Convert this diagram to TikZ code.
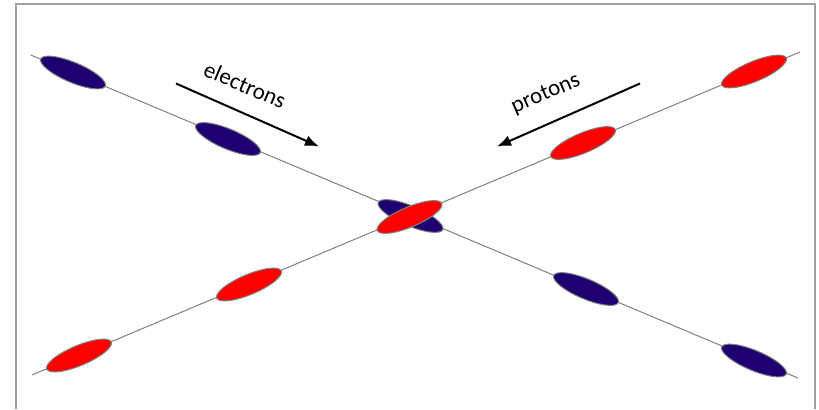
\documentclass[tikz,border=0pt]{standalone}
\usepackage{fontspec}
\setmainfont{Carlito}
\usepackage{xcolor}
\usetikzlibrary{shapes.geometric,arrows.meta}
\definecolor{electronblue}{RGB}{31,0,112}
\definecolor{beamgray}{RGB}{128,128,128}
\definecolor{framegray}{RGB}{160,160,160}

\begin{document}
\begin{tikzpicture}[
    x                     = 0.5pt,
    y                     = -0.5pt,
    beam/.style           = {draw=beamgray, line width=0.5pt},
    bunch/.style          = {ellipse, draw=beamgray, line width=0.5pt, inner sep=0pt,
                             minimum width=35pt, minimum height=10pt},
    electron/.style       = {bunch, fill=electronblue, rotate=-22.8},
    proton/.style         = {bunch, fill=red, rotate=22.8},
    direction/.style      = {draw, line width=1pt, -{Latex[length=7pt,width=5.5pt]}},
    every node/.style     = {font=\fontsize{11.5}{13}\selectfont, inner sep=1pt}
  ]
\useasboundingbox (0,0) rectangle (819,409);
\draw[framegray, line width=1pt] (15.5,409) -- (15.5,3.5) -- (815,3.5) -- (815,409);

\coordinate (ebeamstart) at (30.7,55);
\coordinate (ebeamend)   at (798,378);
\coordinate (pbeamstart) at (32,375);
\coordinate (pbeamend)   at (800,52);
\draw[beam] (ebeamstart) -- (ebeamend);
\draw[beam] (pbeamstart) -- (pbeamend);

\node[electron] (e1) at (73,72.5)   {};
\node[electron] (e2) at (228,139)   {};
\node[electron] (e4) at (586,289)   {};
\node[electron] (e5) at (754,360.5) {};
\node[proton]   (p1) at (754,71.5)  {};
\node[proton]   (p2) at (583,143)   {};
\node[proton]   (p4) at (249,284.5) {};
\node[proton]   (p5) at (79,355.5)  {};
\node[electron] (e3) at (410.5,216) {};
\node[proton]   (p3) at (409.5,217) {};

\coordinate (earrowstart) at (176,83.5);
\coordinate (earrowend)   at (319,146.5);
\coordinate (parrowstart) at (640,83.5);
\coordinate (parrowend)   at (497,146.5);
\draw[direction] (earrowstart) -- (earrowend);
\draw[direction] (parrowstart) -- (parrowend);

\node[rotate=-23] (electrons) at (245,85) {electrons};
\node[rotate=23]  (protons)   at (546,94) {protons};
\end{tikzpicture}
\end{document}
